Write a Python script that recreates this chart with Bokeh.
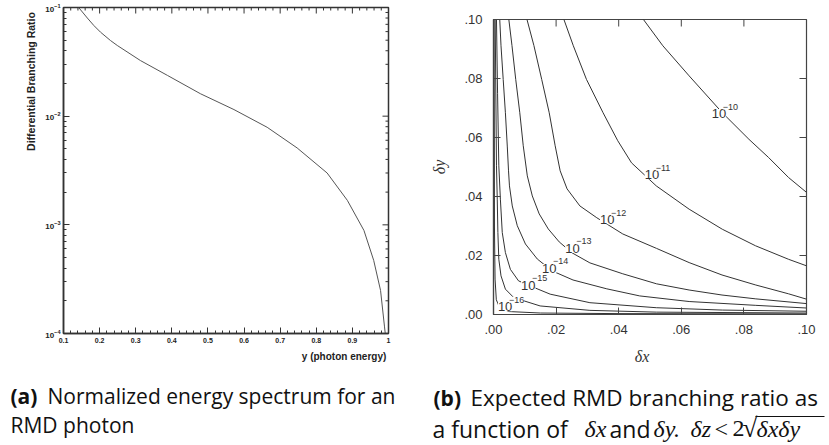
from bokeh.plotting import figure
from bokeh.models import (Range1d, FixedTicker, Label, CustomJSTickFormatter)
from bokeh.layouts import column, row
from bokeh.embed import file_html
from bokeh.resources import INLINE

# ---------------- data: panel (a) ----------------
photon_energy = [0.142, 0.166, 0.184, 0.2025, 0.230, 0.249, 0.313, 0.388, 0.479, 0.572,
                 0.664, 0.747, 0.830, 0.886, 0.932, 0.959, 0.978, 0.989, 0.991]
diff_branching = [0.100, 0.0800, 0.0683, 0.0593, 0.0497, 0.0447, 0.0325, 0.0237, 0.0161,
                  0.0115, 0.00790, 0.00510, 0.00300, 0.00168, 0.000888, 0.000471,
                  0.000249, 0.000115, 0.0001]
a_x_ticks = [0.1, 0.2, 0.3, 0.4, 0.5, 0.6, 0.7, 0.8, 0.9, 1.0]
a_y_decades = [1e-4, 1e-3, 1e-2, 1e-1]
a_xlabel = "y (photon energy)"
a_ylabel = "Differential Branching Ratio"

# ---------------- data: panel (b) ----------------
c10_dx = [0.0479, 0.0541, 0.0625, 0.0731, 0.0816, 0.0879, 0.0943, 0.1000]
c10_dy = [0.1000, 0.0911, 0.0809, 0.0684, 0.0594, 0.0532, 0.0464, 0.0414]
c11_dx = [0.0225, 0.0255, 0.0297, 0.0350, 0.0397, 0.0441, 0.0520, 0.0625, 0.0731, 0.0837, 0.0943, 0.1000]
c11_dy = [0.1000, 0.0911, 0.0797, 0.0684, 0.0589, 0.0514, 0.0436, 0.0357, 0.0289, 0.0233, 0.0187, 0.0165]
c12_dx = [0.0107, 0.0129, 0.0154, 0.0178, 0.0197, 0.0213, 0.0235, 0.0276, 0.0330, 0.0413, 0.0521, 0.0625, 0.0730, 0.0838, 0.0943, 0.1000]
c12_dy = [0.1000, 0.0912, 0.0797, 0.0684, 0.0572, 0.0487, 0.0426, 0.0368, 0.0328, 0.0273, 0.0224, 0.0176, 0.0134, 0.0100, 0.0070, 0.0052]
c13_dx = [0.0049, 0.0059, 0.0071, 0.0084, 0.0095, 0.0108, 0.0124, 0.0146, 0.0175, 0.0210, 0.0251, 0.0308, 0.0413, 0.0521, 0.0625, 0.0730, 0.0838, 0.1000]
c13_dy = [0.1000, 0.0912, 0.0797, 0.0684, 0.0572, 0.0470, 0.0402, 0.0341, 0.0290, 0.0246, 0.0209, 0.0175, 0.0138, 0.0104, 0.0083, 0.0066, 0.0053, 0.0037]
c14_dx = [0.0020, 0.0024, 0.0031, 0.0038, 0.0044, 0.0048, 0.0051, 0.0060, 0.0076, 0.0102, 0.0140, 0.0187, 0.0254, 0.0362, 0.0467, 0.0625, 0.0838, 0.1000]
c14_dy = [0.1000, 0.0911, 0.0797, 0.0684, 0.0571, 0.0487, 0.0436, 0.0368, 0.0301, 0.0239, 0.0188, 0.0148, 0.0117, 0.0087, 0.0063, 0.0044, 0.0031, 0.0022]
c15_dx = [0.00095, 0.0013, 0.0017, 0.0022, 0.0028, 0.0038, 0.0054, 0.0080, 0.0117, 0.0181, 0.0308, 0.0520, 0.0731, 0.1000]
c15_dy = [0.1000, 0.0750, 0.0504, 0.0391, 0.0278, 0.0210, 0.0153, 0.0114, 0.0097, 0.0069, 0.0040, 0.0023, 0.0015, 0.0011]
c16_dx = [0.00054, 0.00095, 0.0012, 0.0014, 0.0017, 0.0024, 0.0038, 0.0065, 0.0149, 0.0308, 0.0520, 0.1000]
c16_dy = [0.1000, 0.0504, 0.0391, 0.0278, 0.0187, 0.0131, 0.0086, 0.0057, 0.0029, 0.0014, 0.0008, 0.0005]
c17_dx = [0.0002, 0.0003, 0.0005, 0.0009, 0.0020, 0.0050, 0.0150, 0.0400, 0.1000]
c17_dy = [0.1000, 0.0300, 0.0120, 0.0050, 0.0022, 0.0010, 0.0005, 0.0003, 0.0002]

level_exponents = ["\u221210", "\u221211", "\u221212", "\u221213", "\u221214", "\u221215", "\u221216"]
level_label_dx = [0.0697, 0.0483, 0.0340, 0.0229, 0.0155, 0.0088, 0.0014]
level_label_dy = [0.0681, 0.0474, 0.0321, 0.0224, 0.0156, 0.0100, 0.0026]
b_ticks = [0.0, 0.02, 0.04, 0.06, 0.08, 0.10]

caption_a = ["(a)", "Normalized energy spectrum for an", "RMD photon"]
caption_b1 = ["(b)", "Expected RMD branching ratio as"]

# ---------------- styles ----------------
AX = "#333333"
SANS = "Liberation Sans"
CAP = "Open Sans"
SERIF = "Liberation Serif"
NB = "\u00a0"


def style_axis(ax, major_in, minor_in, color, width):
    ax.major_tick_in = major_in
    ax.major_tick_out = 0
    ax.minor_tick_in = minor_in
    ax.minor_tick_out = 0
    ax.axis_line_color = color
    ax.axis_line_width = width
    ax.major_tick_line_color = color
    ax.minor_tick_line_color = color if minor_in else None
    ax.major_tick_line_width = 1
    ax.minor_tick_line_width = 1


# ---------------- panel (a) ----------------
pa = figure(width=428, height=378, x_range=Range1d(0.1, 1.0), y_range=Range1d(1e-4, 1e-1),
            y_axis_type="log", toolbar_location=None, output_backend="svg", title=None,
            min_border_left=63, min_border_right=40, min_border_top=7, min_border_bottom=45)
pa.grid.visible = False
pa.outline_line_color = AX
pa.outline_line_width = 1.5

x_minor = [round(t + k * 0.02, 2) for t in a_x_ticks[:-1] for k in range(1, 5)]
y_minor = [d * m for d in a_y_decades[:-1] for m in range(2, 10)]

xa = pa.xaxis[0]
xa.ticker = FixedTicker(ticks=a_x_ticks, minor_ticks=x_minor)
style_axis(xa, 6, 3, AX, 1.5)
xa.formatter = CustomJSTickFormatter(code="return Math.abs(tick - 1) < 1e-9 ? '1' : tick.toFixed(1)")
xa.major_label_text_font = SANS
xa.major_label_text_font_style = "bold"
xa.major_label_text_font_size = "7px"
xa.major_label_text_color = "#222222"
xa.major_label_standoff = 4
xa.axis_label = NB * 85 + a_xlabel
xa.axis_label_text_font = SANS
xa.axis_label_text_font_style = "bold"
xa.axis_label_text_font_size = "10px"
xa.axis_label_text_color = "#222222"
xa.axis_label_standoff = 5

ya = pa.yaxis[0]
ya.ticker = FixedTicker(ticks=a_y_decades, minor_ticks=y_minor)
style_axis(ya, 6, 3, AX, 1.5)
ya.major_label_text_font = SANS
ya.major_label_text_font_style = "bold"
ya.major_label_text_font_size = "8px"
ya.major_label_text_color = "#222222"
ya.major_label_standoff = 3
ya.axis_label = NB * 61 + a_ylabel
ya.axis_label_text_font = SANS
ya.axis_label_text_font_style = "bold"
ya.axis_label_text_font_size = "10.5px"
ya.axis_label_text_color = "#222222"
ya.axis_label_standoff = 5

# inward ticks on the top and right edges (the outer half of each dash is clipped)
pa.scatter(a_x_ticks, [1e-1] * len(a_x_ticks), marker="dash", angle=90, angle_units="deg",
           size=12, line_color=AX, line_width=1)
pa.scatter(x_minor, [1e-1] * len(x_minor), marker="dash", angle=90, angle_units="deg",
           size=6, line_color=AX, line_width=1)
pa.scatter([1.0] * len(a_y_decades), a_y_decades, marker="dash", size=12,
           line_color=AX, line_width=1)
pa.scatter([1.0] * len(y_minor), y_minor, marker="dash", size=6, line_color=AX, line_width=1)

pa.line(photon_energy, diff_branching, line_color="#555555", line_width=1)

# ---------------- panel (b) ----------------
BC = "#444444"
pb = figure(width=401, height=378, x_range=Range1d(0, 0.1), y_range=Range1d(0, 0.1),
            toolbar_location=None, output_backend="svg", title=None,
            min_border_left=63, min_border_right=23, min_border_top=19, min_border_bottom=64)
pb.grid.visible = False
pb.outline_line_color = BC
pb.outline_line_width = 1.2
fmt = CustomJSTickFormatter(code="return tick.toFixed(2).replace(/^0/, '')")
for ax in (pb.xaxis[0], pb.yaxis[0]):
    ax.ticker = FixedTicker(ticks=b_ticks, minor_ticks=[])
    ax.formatter = fmt
    style_axis(ax, 7, 0, BC, 1.2)
    ax.major_label_text_font = SANS
    ax.major_label_text_font_size = "13px"
    ax.major_label_text_color = "#333333"
    ax.axis_label_text_font = SERIF
    ax.axis_label_text_font_style = "italic"
    ax.axis_label_text_font_size = "16px"
    ax.axis_label_text_color = "#333333"
pb.xaxis[0].major_label_standoff = 10
pb.yaxis[0].major_label_standoff = 11
pb.xaxis[0].axis_label = "\u03b4x" + NB * 4
pb.yaxis[0].axis_label = "\u03b4y"
pb.xaxis[0].axis_label_standoff = 11
pb.yaxis[0].axis_label_standoff = 13

pb.scatter(b_ticks, [0.1] * len(b_ticks), marker="dash", angle=90, angle_units="deg",
           size=14, line_color=BC, line_width=1)
pb.scatter([0.1] * len(b_ticks), b_ticks, marker="dash", size=14, line_color=BC, line_width=1)

pb.multi_line(xs=[c10_dx, c11_dx, c12_dx, c13_dx, c14_dx, c15_dx, c16_dx, c17_dx],
              ys=[c10_dy, c11_dy, c12_dy, c13_dy, c14_dy, c15_dy, c16_dy, c17_dy],
              line_color="#333333", line_width=1)

for lx, ly, e in zip(level_label_dx, level_label_dy, level_exponents):
    pb.add_layout(Label(x=lx, y=ly, text="10", text_align="left", text_baseline="middle",
                        text_font=SANS, text_font_size="13px", text_color="#333333",
                        background_fill_color="white"))
    pb.add_layout(Label(x=lx, y=ly, x_offset=11, y_offset=7, text=e, text_align="left",
                        text_baseline="middle", text_font=SANS, text_font_size="9px",
                        text_color="#333333", background_fill_color="white"))

# ---------------- captions (a pixel-space strip under both panels) ----------------
CAP_H = 67
pc = figure(width=829, height=CAP_H, x_range=Range1d(0, 829), y_range=Range1d(0, CAP_H),
            x_axis_location=None, y_axis_location=None, toolbar_location=None,
            output_backend="svg", min_border=0, title=None)
pc.grid.visible = False
pc.outline_line_color = None


def cap(x, mid, t, font=CAP, style="normal", size="21px"):
    # `mid` = vertical middle of the text, measured downwards from the strip's top
    pc.add_layout(Label(x=x, y=CAP_H - mid, text=t, text_font=font, text_font_style=style,
                        text_font_size=size, text_color="#111111",
                        text_baseline="middle", text_align="left"))


cap(10, 17, caption_a[0], style="bold")
cap(47, 17, caption_a[1])
cap(10, 46, caption_a[2])
cap(433, 19, caption_b1[0], style="bold")
cap(470, 19, caption_b1[1], size="22.5px")
cap(432, 50, "a function of", size="23px")
cap(584, 50, "\u03b4x", font=SERIF, style="italic", size="24px")
cap(609, 50, "and", size="23px")
cap(653, 50, "\u03b4y.", font=SERIF, style="italic", size="24px")
cap(690, 50, "\u03b4z", font=SERIF, style="italic", size="24px")
cap(714, 50, "<", font=SERIF, size="24px")
cap(732, 50, "2", font=SERIF, size="24px")
cap(742, 49, "\u221a", font=SERIF, size="27px")
cap(756, 50, "\u03b4x\u03b4y", font=SERIF, style="italic", size="24px")
pc.segment(x0=[755], y0=[CAP_H - 38], x1=[824], y1=[CAP_H - 38],
           line_color="#111111", line_width=1)

layout = column(row(column(pa), column(pb)), pc)
open("out.html", "w").write(file_html(layout, INLINE))
